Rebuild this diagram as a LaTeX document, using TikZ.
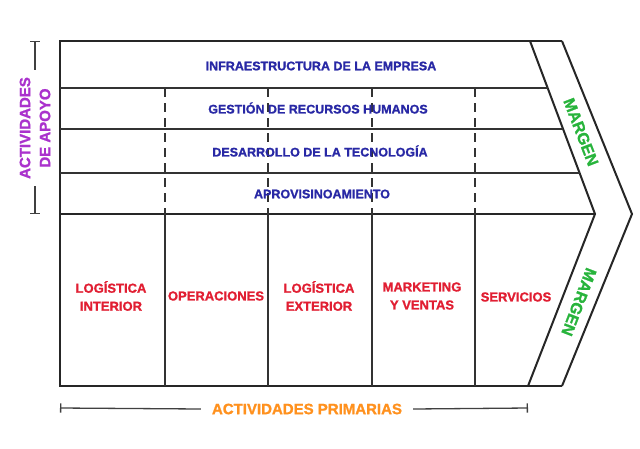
\documentclass[tikz,border=0pt]{standalone}
\usepackage{fontspec}
\setmainfont{Liberation Sans}[FakeBold=1.2]
\definecolor{apoyoblue}{RGB}{40,40,165}
\definecolor{primred}{RGB}{225,30,50}
\definecolor{margengreen}{RGB}{40,180,60}
\definecolor{apoyopurple}{RGB}{170,50,205}
\definecolor{primorange}{RGB}{255,145,30}
\begin{document}
\begin{tikzpicture}[x=1pt,y=-1pt,
        frame/.style={draw=black!85, line width=2pt},
        divider/.style={draw=black!80, line width=1.3pt},
        dashdiv/.style={divider, dash pattern=on 9pt off 6pt},
        bracket/.style={draw=black!75, line width=1.3pt},
        apoyo/.style={text=apoyoblue, font=\fontsize{12.5}{15}\selectfont\bfseries},
        primaria/.style={text=primred, align=center, font=\fontsize{13}{18}\selectfont\bfseries},
        margen/.style={text=margengreen, font=\fontsize{16}{18}\selectfont\bfseries},
        label/.style={font=\fontsize{15}{20}\selectfont\bfseries}
    ]
        \fill[white] (0,0) rectangle (640,448);
        \useasboundingbox (0,0) rectangle (640,448);
        % value chain outline with margin chevron
        \coordinate (topl) at (60,41);
        \coordinate (botl) at (60,386);
        \coordinate (topin) at (530,41);
        \coordinate (topout) at (562,41);
        \coordinate (tipin) at (595,214);
        \coordinate (tipout) at (632,214);
        \coordinate (botin) at (528,386);
        \coordinate (botout) at (562,386);
        \draw[frame] (topout) -- (topl) -- (botl) -- (botout);
        \draw[frame] (topin) -- (tipin) -- (botin);
        \draw[frame] (topout) -- (tipout) -- (botout);
        \draw[frame, line width=2.4pt] (60,214) -- (tipin);
        % support rows
        \foreach \y/\x in {88/547.7, 129/563.1, 173/579.6}
            \draw[divider] (60,\y) -- (\x,\y);
        \foreach \x in {165,268,372,475} {
            \draw[dashdiv] (\x,88) -- (\x,214);
            \draw[divider] (\x,214) -- (\x,386);
        }
        \node[apoyo] (infra) at (321,66) {INFRAESTRUCTURA DE LA EMPRESA};
        \node[apoyo] (rrhh) at (318,108) {GESTIÓN DE RECURSOS HUMANOS};
        \node[apoyo] (tecno) at (320,151) {DESARROLLO DE LA TECNOLOGÍA};
        \node[apoyo] (aprov) at (322,194) {APROVISINOAMIENTO};
        % primary activities
        \node[primaria] (login) at (111,296) {LOGÍSTICA\\INTERIOR};
        \node[primaria] (oper) at (216,296) {OPERACIONES};
        \node[primaria] (logout) at (319,296) {LOGÍSTICA\\EXTERIOR};
        \node[primaria] (mkt) at (422,296) {MARKETING\\Y VENTAS};
        \node[primaria] (serv) at (516,297) {SERVICIOS};
        \node[margen, rotate=-69] (margenup) at (581,132) {MARGEN};
        \node[margen, rotate=-111] (margendown) at (579,302) {MARGEN};
        % brackets
        \node[label, text=apoyopurple, align=center, rotate=90, inner sep=7pt] (actapoyo) at (35,128) {ACTIVIDADES\\DE APOYO};
        \draw[bracket, |-] (35,41) -- (actapoyo.east);
        \draw[bracket, -|] (actapoyo.west) -- (35,214);
        \node[label, text=primorange, inner xsep=11pt] (actprim) at (307,409) {ACTIVIDADES PRIMARIAS};
        \draw[bracket, |-] (60,408) -- (actprim.west);
        \draw[bracket, -|] (actprim.east) -- (528,408);
    \end{tikzpicture}
\end{document}
